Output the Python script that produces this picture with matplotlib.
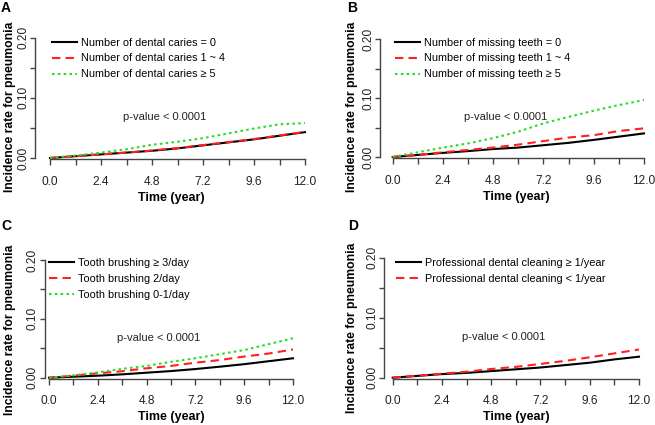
import numpy as np
import matplotlib
matplotlib.use('Agg')
import matplotlib.pyplot as plt

W, H = 655, 425
plt.rcParams['font.family'] = ['Liberation Sans', 'DejaVu Sans']

# time points (years)
time = [0.0, 1.2, 2.4, 3.6, 4.8, 6.0, 7.2, 8.4, 9.6, 10.8, 12.0]

# A: dental caries
caries_0 = [0, 0.003, 0.006, 0.009, 0.012, 0.016, 0.021, 0.026, 0.031, 0.037, 0.043]
caries_1_4 = [0, 0.003, 0.006, 0.009, 0.0125, 0.0165, 0.0215, 0.0265, 0.0315, 0.0375, 0.0435]
caries_5 = [0, 0.004, 0.009, 0.0145, 0.022, 0.027, 0.033, 0.041, 0.049, 0.056, 0.058]
# B: missing teeth
missing_0 = [0, 0.0035, 0.007, 0.010, 0.0135, 0.016, 0.020, 0.024, 0.029, 0.0345, 0.040]
missing_1_4 = [0, 0.0035, 0.008, 0.012, 0.016, 0.021, 0.027, 0.033, 0.037, 0.044, 0.0486]
missing_5 = [0, 0.008, 0.016, 0.023, 0.032, 0.043, 0.057, 0.068, 0.0785, 0.088, 0.0966]
# C: tooth brushing
brush_3 = [0, 0.0017, 0.0034, 0.0057, 0.0085, 0.0113, 0.0147, 0.0187, 0.023, 0.028, 0.033]
brush_2 = [0, 0.0035, 0.0074, 0.011, 0.016, 0.020, 0.0255, 0.030, 0.036, 0.041, 0.048]
brush_0_1 = [0, 0.004, 0.009, 0.015, 0.020, 0.027, 0.033, 0.040, 0.047, 0.057, 0.067]
# D: professional dental cleaning
clean_ge1 = [0, 0.003, 0.006, 0.008, 0.011, 0.014, 0.017, 0.021, 0.025, 0.0305, 0.035]
clean_lt1 = [0, 0.0033, 0.0067, 0.010, 0.0145, 0.018, 0.023, 0.028, 0.034, 0.0405, 0.047]

panels = [
    ('A', [caries_0, caries_1_4, caries_5],
     ['Number of dental caries = 0', 'Number of dental caries 1 ~ 4',
      'Number of dental caries \u2265 5']),
    ('B', [missing_0, missing_1_4, missing_5],
     ['Number of missing teeth = 0', 'Number of missing teeth 1 ~ 4',
      'Number of missing teeth \u2265 5']),
    ('C', [brush_3, brush_2, brush_0_1],
     ['Tooth brushing \u2265 3/day', 'Tooth brushing 2/day', 'Tooth brushing 0-1/day']),
    ('D', [clean_ge1, clean_lt1],
     ['Professional dental cleaning \u2265 1/year',
      'Professional dental cleaning < 1/year']),
]

# pixel geometry of each panel: y-spine x, x=0, x=12, y=0, y=0.2, legend line start, first legend row
geom = {
    'A': (35, 50, 305, 158, 37.7, 52, 42),
    'B': (380, 392.7, 644, 157, 39, 395, 42),
    'C': (44.5, 49, 293, 377.7, 260, 49, 262.7),
    'D': (384, 392.7, 639, 377.7, 257.7, 396, 262.7),
}
label_pos = {
    'A': ((6, 8), (10, 107), (171, 198)),
    'B': ((352, 8), (351.7, 107), (516.7, 197)),
    'C': ((6, 226), (10, 330), (171, 416.7)),
    'D': ((353, 226), (351.7, 328), (516.7, 417)),
}

styles = [dict(color='black', ls='-'),
          dict(color='#ff2020', ls=(0, (4, 2.5))),
          dict(color='#22dd22', ls=(0, (1.2, 1.6)))]

axis_col = '#444444'
fig = plt.figure(figsize=(W / 100, H / 100), dpi=100)

for letter, series, labels in panels:
    xs, x0, x12, y0, y20, lx, ly = geom[letter]
    u = (x12 - x0) / 12.0
    v = (y0 - y20) / 0.2
    xmin, xmax = -(x0 - xs) / u, 12.2
    ymin, ymax = -1.0 / v, 0.205
    left = xs
    right = x0 + xmax * u
    bottom = y0 + 1.0
    top = y0 - ymax * v
    ax = fig.add_axes([left / W, 1 - bottom / H, (right - left) / W, (bottom - top) / H])
    ax.set_xlim(xmin, xmax)
    ax.set_ylim(ymin, ymax)
    for s, lab, st in zip(series, labels, styles):
        ax.plot(time, s, lw=1.5, label=lab, **st)
    for side in ['top', 'right']:
        ax.spines[side].set_visible(False)
    ax.spines['left'].set_bounds(0, 0.2)
    ax.spines['bottom'].set_bounds(0, 12)
    for side in ['left', 'bottom']:
        ax.spines[side].set_color(axis_col)
        ax.spines[side].set_linewidth(1.0)
    ax.set_xticks(np.arange(0, 12.01, 1.2))
    ax.set_xticklabels(['%.1f' % t if i % 2 == 0 else '' for i, t in enumerate(np.arange(0, 12.01, 1.2))])
    ax.set_yticks([0, 0.05, 0.10, 0.15, 0.20])
    ax.set_yticklabels(['0.00', '', '0.10', '', '0.20'], rotation=90, va='center')
    ax.tick_params(axis='x', length=4, width=1.0, color=axis_col, labelsize=8.6,
                   labelcolor='#222222', pad=8)
    ax.tick_params(axis='y', length=3.5, width=1.0, color=axis_col, labelsize=8.6,
                   labelcolor='#222222', pad=0.5)
    ax.text(5.4, 0.068, 'p-value < 0.0001', ha='center', va='center', fontsize=8, color='#222222')
    ax.legend(loc='upper left', bbox_to_anchor=((lx - left) / (right - left), (bottom - ly + 4.5) / (bottom - top)),
              frameon=False, fontsize=7.8, handlelength=2.3, handletextpad=0.4,
              labelspacing=0.55, borderpad=0, borderaxespad=0)

    (px, py), (ylx, yly), (xlx, xly) = label_pos[letter]
    fig.text(px / W, 1 - py / H, letter, fontsize=10, fontweight='bold', ha='center', va='center')
    fig.text(ylx / W, 1 - yly / H, 'Incidence rate for pneumonia', fontsize=8.7, fontweight='bold',
             rotation=90, ha='center', va='center')
    fig.text(xlx / W, 1 - xly / H, 'Time (year)', fontsize=9, fontweight='bold', ha='center', va='center')

fig.savefig('out.png', dpi=100)
